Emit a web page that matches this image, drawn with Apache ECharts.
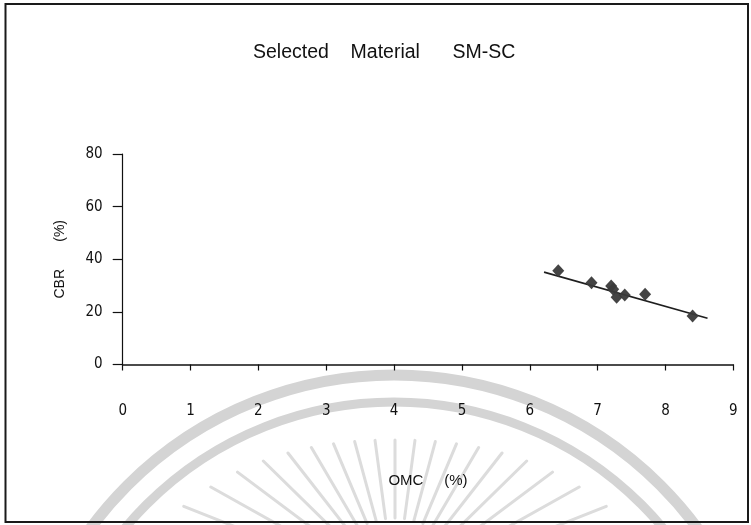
<!DOCTYPE html>
<html>
<head>
<meta charset="utf-8">
<title>Selected Material SM-SC</title>
<script src="https://cdn.jsdelivr.net/npm/echarts@6/dist/echarts.min.js"></script>
<style>
  html, body { margin: 0; padding: 0; background: #ffffff; }
  #chart { width: 751px; height: 525px; }
</style>
</head>
<body>
<div id="chart"></div>
<script>
// OMC (%) vs CBR (%) test results for the selected SM-SC material
const omc = [6.42, 6.91, 7.20, 7.23, 7.28, 7.40, 7.70, 8.40];
const cbr = [35.6, 31.1, 29.8, 28.6, 25.6, 26.4, 26.7, 18.4];

// Linear trend line end points
const trendOmc = [6.21, 8.62];
const trendCbr = [35.1, 17.6];

// Axis tick values
const xTicks = [0, 1, 2, 3, 4, 5, 6, 7, 8, 9];
const yTicks = [0, 20, 40, 60, 80];

const chart = echarts.init(document.getElementById('chart'), null, { renderer: 'canvas' });

const points = omc.map((x, i) => [x, cbr[i]]);
const trend = trendOmc.map((x, i) => [x, trendCbr[i]]);

const tickFont = {
  fontFamily: '"Liberation Sans Narrow", "DejaVu Sans Condensed", "Liberation Sans", sans-serif',
  fontSize: 15,
  color: '#111'
};

// Faint emblem in the background: two arcs and a fan of rays
const wmColor = '#d4d4d4';
const emblem = [
  {
    type: 'arc', silent: true, z: -10,
    shape: { cx: 394, cy: 752, r: 377, startAngle: Math.PI, endAngle: 2 * Math.PI },
    style: { stroke: wmColor, lineWidth: 11, fill: null }
  },
  {
    type: 'arc', silent: true, z: -10,
    shape: { cx: 394, cy: 752, r: 350, startAngle: Math.PI, endAngle: 2 * Math.PI },
    style: { stroke: wmColor, lineWidth: 9, fill: null }
  }
];
const rayCx = 395, rayCy = 590;
for (let a = -76; a <= 76; a += 7.6) {
  const rad = a * Math.PI / 180;
  const rOut = 150 + 0.0165 * a * a;
  const rIn = 72;
  emblem.push({
    type: 'line', silent: true, z: -10,
    shape: {
      x1: rayCx + rIn * Math.sin(rad), y1: rayCy - rIn * Math.cos(rad),
      x2: rayCx + rOut * Math.sin(rad), y2: rayCy - rOut * Math.cos(rad)
    },
    style: { stroke: '#dcdcdc', lineWidth: 3, lineCap: 'round' }
  });
}

// Outer frame
const frame = {
  type: 'rect', silent: true, z: 10,
  shape: { x: 5.5, y: 4, width: 742.5, height: 518 },
  style: { stroke: '#1a1a1a', lineWidth: 2, fill: null }
};

chart.setOption({
  animation: false,
  backgroundColor: '#ffffff',
  title: {
    text: 'Selected    Material      SM-SC',
    left: 253,
    top: 43,
    padding: 0,
    textStyle: {
      fontFamily: '"Liberation Sans", Arial, sans-serif',
      fontSize: 19.5,
      fontWeight: 'normal',
      color: '#111'
    }
  },
  grid: { left: 122.7, right: 17.7, top: 154, bottom: 160.5, containLabel: false },
  xAxis: {
    type: 'value',
    min: xTicks[0],
    max: xTicks[xTicks.length - 1],
    interval: 1,
    name: 'OMC     (%)',
    nameLocation: 'middle',
    nameGap: 109,
    nameTextStyle: { fontFamily: '"Liberation Sans", Arial, sans-serif', fontSize: 15, color: '#111' },
    axisLine: { show: true, onZero: false, lineStyle: { color: '#111', width: 1.5 } },
    axisTick: { show: true, inside: false, length: 6, lineStyle: { color: '#111', width: 1.2 } },
    axisLabel: Object.assign({ margin: 39 }, tickFont),
    splitLine: { show: false }
  },
  yAxis: {
    type: 'value',
    min: yTicks[0],
    max: yTicks[yTicks.length - 1],
    interval: 20,
    name: 'CBR       (%)',
    nameLocation: 'middle',
    nameGap: 56,
    nameRotate: 90,
    nameTextStyle: { fontFamily: '"Liberation Sans", Arial, sans-serif', fontSize: 14, color: '#111' },
    axisLine: { show: true, onZero: false, lineStyle: { color: '#111', width: 1.2 } },
    axisTick: { show: true, inside: false, length: 10, lineStyle: { color: '#111', width: 1.2 } },
    axisLabel: Object.assign({ margin: 20 }, tickFont),
    splitLine: { show: false }
  },
  series: [
    {
      name: 'Trend',
      type: 'line',
      data: trend,
      symbol: 'none',
      lineStyle: { color: '#1e1e1e', width: 1.6 },
      z: 2
    },
    {
      name: 'CBR',
      type: 'scatter',
      data: points,
      symbol: 'diamond',
      symbolSize: [12, 13],
      itemStyle: { color: '#3a3a3a', opacity: 0.95 },
      z: 3
    }
  ],
  graphic: emblem.concat([frame])
});
</script>
</body>
</html>
